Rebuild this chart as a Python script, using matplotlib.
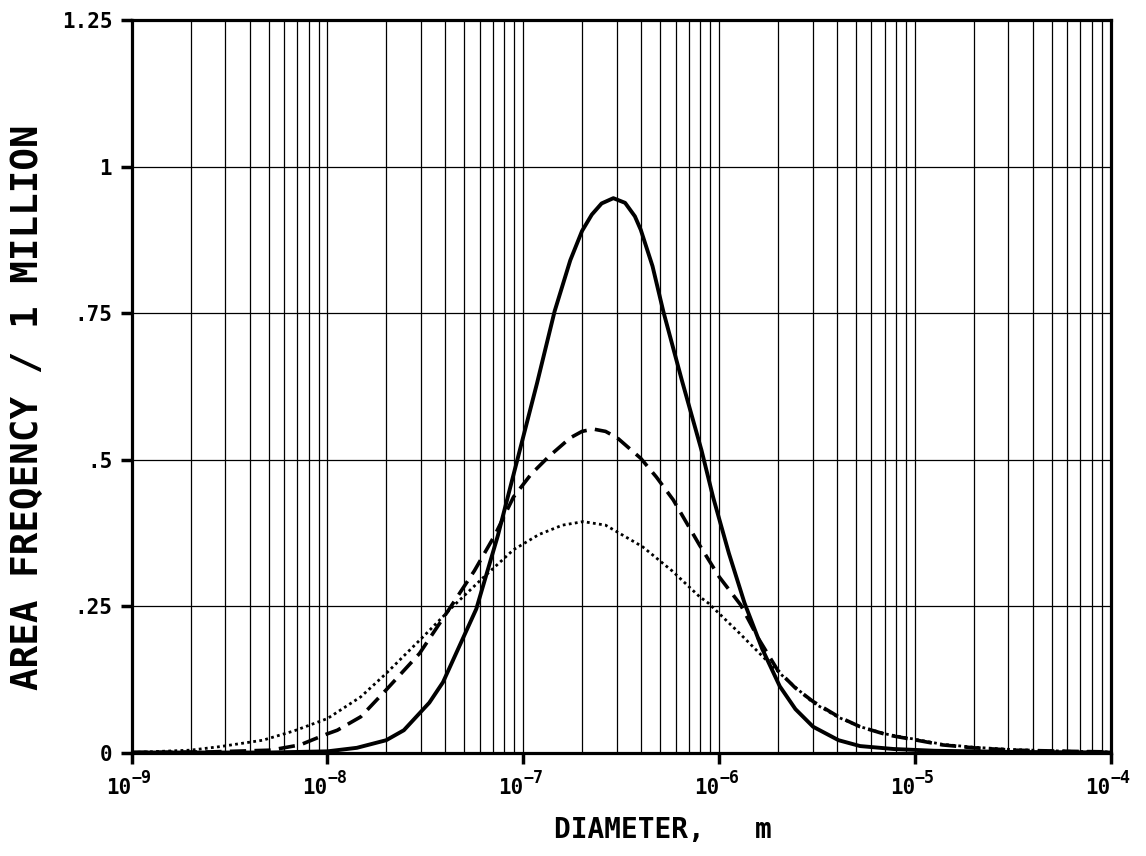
import numpy as np
import matplotlib.pyplot as plt
from matplotlib import transforms

plt.rcParams['font.family'] = ['DejaVu Sans Mono', 'DejaVu Sans']
plt.rcParams['font.weight'] = 'bold'

# curves: exponent of diameter (m) and area frequency
solid_logd = [-9.0, -8.3, -8.0, -7.85, -7.70, -7.61, -7.48, -7.41, -7.24, -7.13, -7.03,
              -6.93, -6.84, -6.76, -6.70, -6.65, -6.60, -6.54, -6.48, -6.43, -6.40,
              -6.34, -6.285, -6.19, -6.09, -6.03, -5.95, -5.87, -5.78, -5.69, -5.61,
              -5.52, -5.39, -5.28, -5.11, -4.9, -4.5, -4.0]
solid_area = [0.0, 0.0, 0.002, 0.008, 0.021, 0.038, 0.085, 0.12, 0.245, 0.37, 0.50,
              0.63, 0.753, 0.84, 0.89, 0.918, 0.937, 0.946, 0.938, 0.915, 0.892,
              0.83, 0.753, 0.635, 0.516, 0.435, 0.34, 0.255, 0.177, 0.113, 0.074,
              0.044, 0.021, 0.011, 0.006, 0.003, 0.001, 0.0]

dashed_logd = [-9.0, -8.6, -8.29, -8.14, -8.0, -7.95, -7.83, -7.70, -7.53, -7.37, -7.25,
               -7.145, -7.05, -6.96, -6.87, -6.76, -6.70, -6.643, -6.58, -6.52, -6.40,
               -6.32, -6.234, -6.10, -6.0, -5.89, -5.80, -5.70, -5.61, -5.52, -5.39,
               -5.28, -5.14, -4.99, -4.86, -4.7, -4.5, -4.2, -4.0]
dashed_area = [0.0, 0.001, 0.004, 0.013, 0.032, 0.038, 0.061, 0.107, 0.169, 0.249, 0.31,
               0.371, 0.436, 0.475, 0.505, 0.537, 0.548, 0.552, 0.548, 0.537, 0.502,
               0.47, 0.431, 0.354, 0.30, 0.252, 0.195, 0.140, 0.11, 0.087, 0.061,
               0.044, 0.030, 0.021, 0.013, 0.008, 0.004, 0.002, 0.001]

dotted_logd = [-9.0, -8.85, -8.70, -8.55, -8.33, -8.17, -8.0, -7.83, -7.70, -7.51, -7.36,
               -7.20, -7.05, -6.92, -6.80, -6.694, -6.58, -6.39, -6.24, -6.10, -6.055,
               -5.90, -5.76, -5.67, -5.52, -5.39, -5.28, -5.14, -4.99, -4.86, -4.7,
               -4.5, -4.2, -4.0]
dotted_area = [0.0, 0.002, 0.004, 0.010, 0.021, 0.037, 0.058, 0.095, 0.135, 0.198, 0.249,
               0.30, 0.346, 0.372, 0.388, 0.394, 0.388, 0.351, 0.31, 0.266, 0.255,
               0.205, 0.158, 0.129, 0.085, 0.060, 0.044, 0.031, 0.022, 0.014, 0.009,
               0.005, 0.002, 0.001]

decades = [-9, -8, -7, -6, -5, -4]
y_ticks = [0, 0.25, 0.5, 0.75, 1.0, 1.25]
y_labels = ['0', '.25', '.5', '.75', '1', '1.25']

fig = plt.figure(figsize=(11.46, 8.56), dpi=100)
ax = fig.add_axes([0.1149, 0.1209, 0.8543, 0.8557])
ax.set_xscale('log')

ax.plot(10.0 ** np.array(solid_logd), solid_area, color='k', lw=2.8, zorder=5,
        solid_joinstyle='round')
ax.plot(10.0 ** np.array(dashed_logd), dashed_area, color='k', lw=2.6,
        dashes=(4.5, 2.3), zorder=5)
ax.plot(10.0 ** np.array(dotted_logd), dotted_area, color='k', lw=2.0,
        linestyle=(0, (1, 1.2)), zorder=5)

ax.set_xlim(1e-9, 1e-4)
ax.set_ylim(0, 1.25)

# grid: every 1..9 per decade vertically, .25 steps horizontally
minor = [m * 10.0 ** e for e in decades[:-1] for m in range(2, 10)]
ax.set_xticks([10.0 ** e for e in decades])
ax.set_xticks(minor, minor=True)
ax.set_xticklabels([])
ax.set_xticklabels([], minor=True)
ax.set_yticks(y_ticks)
ax.set_yticklabels(y_labels, fontsize=15)
ax.grid(True, which='both', axis='x', color='k', lw=0.9)
ax.grid(True, which='major', axis='y', color='k', lw=0.9)
ax.tick_params(axis='both', which='major', direction='out', length=8, width=2.5, pad=6)
ax.tick_params(axis='x', which='minor', length=0)

for s in ax.spines.values():
    s.set_linewidth(2.3)
    s.set_zorder(6)

# tick labels of the form 10^-n
trans = transforms.blended_transform_factory(ax.transData, ax.transAxes)
for e in decades:
    ax.text(10.0 ** e, -0.035, '10', transform=trans, ha='right', va='top',
            fontsize=15, fontweight='bold')
    ax.text(10.0 ** e, -0.022, '\u2212' + str(-e), transform=trans, ha='left', va='top',
            fontsize=12, fontweight='bold')

fig.text(0.024, 1 - 407 / 856, 'AREA FREQENCY / 1 MILLION', rotation=90,
         ha='center', va='center', fontsize=27, fontweight='bold')
fig.text(663 / 1146, 1 - 830 / 856, 'DIAMETER,   m', ha='center', va='center',
         fontsize=20, fontweight='bold')

fig.savefig('out.png', dpi=100)
